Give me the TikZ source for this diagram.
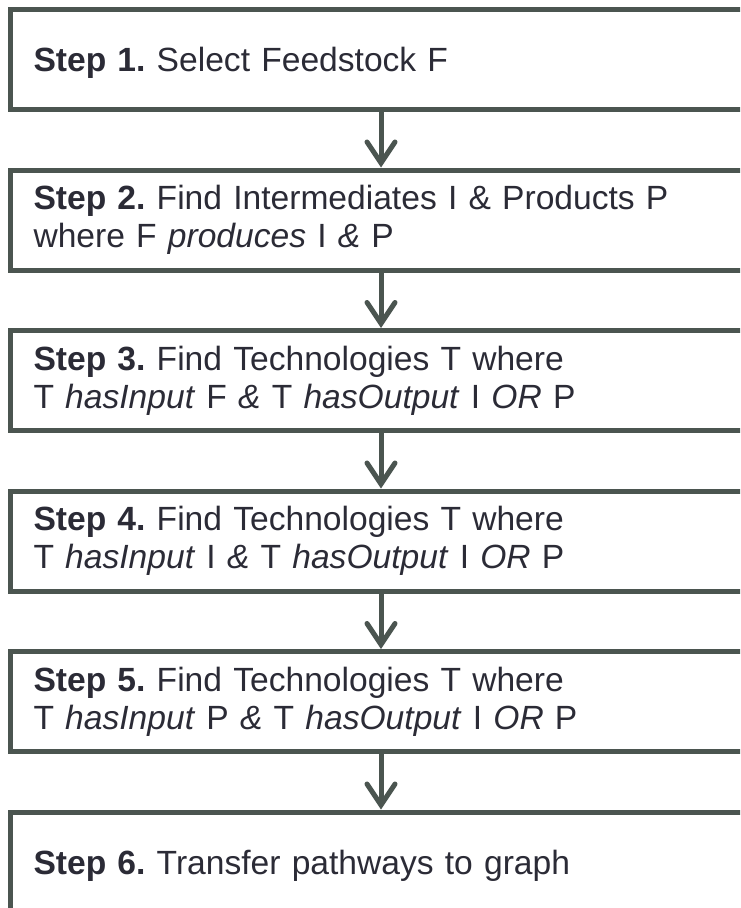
\documentclass[tikz,border=0pt]{standalone}
\usepackage{fontspec}
\setmainfont{Liberation Sans}
\usetikzlibrary{arrows.meta}
\definecolor{frame}{HTML}{4B5550}
\definecolor{ink}{HTML}{2B2B36}
\tikzset{
  stepbox/.style={draw=frame, line width=5pt, rectangle, anchor=north west,
    minimum width=760pt, minimum height=100pt, inner xsep=23pt, inner ysep=0pt,
    text width=714pt, align=left, text=ink,
    font=\fontsize{33.6pt}{38pt}\selectfont\frenchspacing},
  oneline/.style={text depth=0pt},
  flow/.style={draw=frame, line width=5pt,
    -{Straight Barb[length=21pt,width=28pt,line cap=round]}},
}
\begin{document}
\begin{tikzpicture}[x=1pt,y=-1pt]
  \useasboundingbox (0,0) rectangle (740,908);
  \clip (0,0) rectangle (740,908);
  \node[stepbox, oneline] (s1) at (8,7) {\textbf{Step 1.} Select Feedstock F};
  \node[stepbox] (s2) at (8,167.5) {\textbf{Step 2.} Find Intermediates I \& Products P\\
    where F \textit{produces} I \textit{\&} P};
  \node[stepbox] (s3) at (8,328) {\textbf{Step 3.} Find Technologies T where\\
    T \textit{hasInput} F \textit{\&} T \textit{hasOutput} I \textit{OR} P};
  \node[stepbox] (s4) at (8,488.5) {\textbf{Step 4.} Find Technologies T where\\
    T \textit{hasInput} I \textit{\&} T \textit{hasOutput} I \textit{OR} P};
  \node[stepbox] (s5) at (8,649) {\textbf{Step 5.} Find Technologies T where\\
    T \textit{hasInput} P \textit{\&} T \textit{hasOutput} I \textit{OR} P};
  \node[stepbox, oneline] (s6) at (8,809.5) {\textbf{Step 6.} Transfer pathways to graph};
  \coordinate (ax) at (381,0);
  \foreach \a/\b in {s1/s2, s2/s3, s3/s4, s4/s5, s5/s6}
    \draw[flow] (\a.south -| ax) -- (\b.north -| ax);
\end{tikzpicture}
\end{document}
